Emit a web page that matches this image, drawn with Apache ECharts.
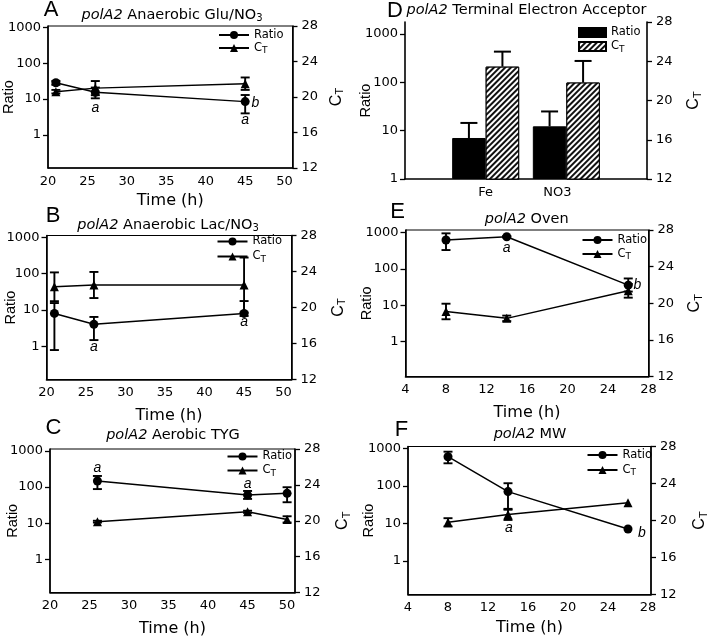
<!DOCTYPE html>
<html><head><meta charset="utf-8">
<script src="https://cdn.jsdelivr.net/npm/echarts@6/dist/echarts.min.js"></script>
<style>html,body{margin:0;padding:0;background:#fff}#c{width:710px;height:639px}</style>
</head><body><div id="c"></div>
<script>
// ---------------- DATA ----------------
const ratioTicks = [1, 10, 100, 1000];
const timeTicksLong = [20, 25, 30, 35, 40, 45, 50];
const timeTicksShort = [4, 8, 12, 16, 20, 24, 28];

// A: Anaerobic Glu/NO3
const timeA = [21, 26, 45];
const ratioA = [28.6, 15.5, 8.5];
const ratioA_lo = [25, 10.5, 4.0];
const ratioA_hi = [32, 21, 13];
const ctA = [20.6, 21.0, 21.5];
const ctA_err = [0.2, 0.8, 0.7];
const annA = [[26, 5.65, 'a'], [46.3, 7.8, 'b'], [45, 2.6, 'a']];

// B: Anaerobic Lac/NO3
const timeB = [21, 26, 45];
const ratioB = [8.0, 4.0, 8.0];
const ratioB_lo = [0.78, 1.47, 6.8];
const ratioB_hi = [15.5, 6.4, 17.6];
const ctB = [22.3, 22.5, 22.5];
const ctB_err = [1.6, 1.45, 3.05];
const annB = [[26, 0.96, 'a'], [45, 4.7, 'a']];

// C: Aerobic TYG
const timeC = [26, 45, 50];
const ratioC = [147, 60, 67];
const ratioC_lo = [88, 47, 38];
const ratioC_hi = [203, 78, 99];
const ctC = [19.9, 21.0, 20.15];
const ctC_err = [0.1, 0.12, 0.35];
const annC = [[26, 332, 'a'], [45, 122, 'a']];

// D: Terminal Electron Acceptor
const catsD = ['Fe', 'NO3'];
const ratioD = [7.06, 12.3];
const ratioD_err = [7.4, 12.7];
const ctD = [23.45, 21.83];
const ctD_err = [1.53, 2.2];

// E: Oven
const timeE = [8, 14, 26];
const ratioE = [630, 776, 36];
const ratioE_lo = [333, 740, 24];
const ratioE_hi = [960, 815, 55];
const ctE = [19.1, 18.35, 21.36];
const ctE_err = [0.85, 0.3, 0.75];
const annE = [[14, 372, 'a'], [26.9, 36, 'b']];

// F: MW
const timeF = [8, 14, 26];
const ratioF = [597, 70, 7.05];
const ratioF_lo = [398, 23, null];
const ratioF_hi = [812, 117, null];
const ctF = [19.8, 20.66, 21.93];
const ctF_err = [0.45, 0.6, 0];
const annF = [[14.1, 7.4, 'a'], [27.4, 5.6, 'b']];

// ---------------- LAYOUT ----------------
const FONT = "'DejaVu Sans', 'Liberation Sans', Arial, sans-serif";
const FONTN = "'Liberation Sans', Arial, Helvetica, sans-serif";
const BLACK = '#000';
const subRich = (fs, pad, fam) => ({ fontSize: fs, fontFamily: fam || FONT, color: BLACK, padding: [pad, 0, 0, 0] });

const panels = [
  { letter: 'A', lx: 51, ly: 10, title: '{i|polA2} Anaerobic Glu/NO{sub|3}', tx: 172, ty: 15,
    grid: { left: 47.5, top: 26, width: 245, height: 142 }, x: [20, 51], xTicks: timeTicksLong, yLog: [0.12, 1090],
    lGap: 32, rGap: 35, xName: 'Time (h)', xGap: 25, legend: { left: 218, top: 28.5, gap: 0 } },
  { letter: 'B', lx: 53, ly: 215.5, title: '{i|polA2} Anaerobic Lac/NO{sub|3}', tx: 168, ty: 225,
    grid: { left: 46.5, top: 235.5, width: 245, height: 144 }, x: [20, 51], xTicks: timeTicksLong, yLog: [0.12, 1135],
    lGap: 28, rGap: 38, xName: 'Time (h)', xGap: 28, legend: { left: 216.5, top: 235, gap: 2 } },
  { letter: 'C', lx: 53.5, ly: 427.5, title: '{i|polA2} Aerobic TYG', tx: 173, ty: 436.7,
    grid: { left: 50, top: 449, width: 245, height: 143.5 }, x: [20, 51], xTicks: timeTicksLong, yLog: [0.12, 1135],
    lGap: 29.5, rGap: 39, xName: 'Time (h)', xGap: 28, legend: { left: 226.5, top: 450, gap: 1 } },
  { letter: 'D', lx: 395, ly: 10.5, title: '{i|polA2} Terminal Electron Acceptor', tx: 526.5, ty: 11.7,
    grid: { left: 405, top: 22, width: 242, height: 157 }, x: [0, 3], xTicks: [1, 2], yLog: [1, 1775],
    lGap: 32, rGap: 38, xName: '', xGap: 0, legend: { left: 578, top: 26, gap: 1 }, bars: true },
  { letter: 'E', lx: 397.5, ly: 211.5, title: '{i|polA2} Oven', tx: 526.7, ty: 220,
    grid: { left: 405.5, top: 230, width: 243, height: 146.5 }, x: [4, 28], xTicks: timeTicksShort, yLog: [0.11, 1187],
    lGap: 31.5, rGap: 37.5, xName: 'Time (h)', xGap: 28, legend: { left: 581.5, top: 233.5, gap: 1 } },
  { letter: 'F', lx: 401.5, ly: 429.5, title: '{i|polA2} MW', tx: 530, ty: 435,
    grid: { left: 408, top: 446.5, width: 248, height: 148 }, x: [4, 28.3], xTicks: timeTicksShort, yLog: [0.126, 1117],
    lGap: 32, rGap: 40, xName: 'Time (h)', xGap: 25, legend: { left: 586.5, top: 448.5, gap: 2 } }
];

function errRender(capW, lw, dx, lowCap) {
  return function (params, api) {
    const x = api.value(0), lo = api.value(1), hi = api.value(2);
    const a = api.coord([x, lo]), b = api.coord([x, hi]);
    const cx = a[0] + dx;
    const st = { stroke: BLACK, lineWidth: lw };
    const ch = [
      { type: 'line', shape: { x1: cx, y1: a[1], x2: cx, y2: b[1] }, style: st },
      { type: 'line', shape: { x1: cx - capW / 2, y1: b[1], x2: cx + capW / 2, y2: b[1] }, style: st }
    ];
    if (lowCap) ch.push({ type: 'line', shape: { x1: cx - capW / 2, y1: a[1], x2: cx + capW / 2, y2: a[1] }, style: st });
    return { type: 'group', children: ch };
  };
}
function annRender(list) {
  return function (params, api) {
    const p = api.coord([api.value(0), api.value(1)]);
    return { type: 'text', x: p[0], y: p[1],
      style: { text: list[params.dataIndex][2], fill: BLACK, font: 'italic 14px ' + FONTN, textAlign: 'center', textVerticalAlign: 'middle' } };
  };
}

const option = { animation: false, backgroundColor: '#fff', textStyle: { fontFamily: FONT },
  grid: [], xAxis: [], yAxis: [], series: [], legend: [], title: [] };

const axisLineStyle = { show: true, onZero: false, lineStyle: { color: BLACK, width: 1.6 } };
const tickStyle = { show: true, length: 5, lineStyle: { color: BLACK, width: 1.3 } };
const labelStyle = { color: BLACK, fontSize: 13, fontFamily: FONT };

panels.forEach((L, i) => {
  option.grid.push(Object.assign({ show: !L.bars, borderColor: BLACK, borderWidth: 1, containLabel: false }, L.grid));
  option.title.push({ text: L.letter, left: L.lx, top: L.ly - 11, textAlign: 'center', padding: 0,
    textStyle: { fontSize: 22, fontWeight: 'normal', color: BLACK, fontFamily: FONTN } });
  option.title.push({ text: L.title, left: L.tx, top: L.ty - 8.5, textAlign: 'center', padding: 0,
    textStyle: { fontSize: 14.5, fontWeight: 'normal', color: BLACK, fontFamily: FONT,
      rich: { i: { fontStyle: 'italic', fontSize: 14.5, fontFamily: FONT, color: BLACK }, sub: subRich(10, 7) } } });
  option.xAxis.push({ gridIndex: i, type: 'value', min: L.x[0], max: L.x[1],
    axisLine: axisLineStyle, axisTick: { show: false }, splitLine: { show: false },
    axisLabel: Object.assign({ customValues: L.xTicks, margin: 7,
      formatter: L.bars ? (v => (Math.round(v) === 2 ? '{n|' + catsD[1] + '}' : catsD[Math.round(v) - 1])) : (v => String(v)),
      rich: { n: { fontSize: 13, fontFamily: FONT, color: BLACK, padding: [0, 18, 0, 0] } } }, labelStyle),
    name: L.xName, nameLocation: 'middle', nameGap: L.xGap, nameMoveOverlap: false,
    nameTextStyle: { fontSize: 16, color: BLACK, fontFamily: FONT } });
  option.yAxis.push({ gridIndex: i, type: 'log', logBase: 10, min: L.yLog[0], max: L.yLog[1], position: 'left',
    axisLine: axisLineStyle, axisTick: Object.assign({ customValues: ratioTicks }, tickStyle), splitLine: { show: false },
    axisLabel: Object.assign({ customValues: ratioTicks, margin: 7, formatter: v => String(Math.round(v)) }, labelStyle),
    name: 'Ratio', nameLocation: 'middle', nameGap: L.lGap, nameMoveOverlap: false,
    nameTextStyle: { fontSize: 14.5, color: BLACK, fontFamily: FONTN } });
  option.yAxis.push({ gridIndex: i, type: 'value', min: 12, max: 28, interval: 4, position: 'right',
    axisLine: axisLineStyle, axisTick: tickStyle, splitLine: { show: false },
    axisLabel: Object.assign({ margin: 9 }, labelStyle),
    name: 'C{sub|T}', nameLocation: 'middle', nameGap: L.rGap, nameRotate: 90, nameMoveOverlap: false,
    nameTextStyle: { fontSize: 16, color: BLACK, fontFamily: FONTN, rich: { sub: subRich(11, 7, FONTN) } } });

  const lg = { orient: 'vertical', left: L.legend.left, top: L.legend.top, itemGap: L.legend.gap, padding: 0,
    selectedMode: false, formatter: n => (n.indexOf('CT') === 0 ? 'C{sub|T}' : 'Ratio'),
    textStyle: { fontSize: 11.5, color: BLACK, fontFamily: FONT, lineHeight: 13, rich: { sub: subRich(9, 6) } } };
  if (L.bars) Object.assign(lg, { icon: 'rect', itemWidth: 27, itemHeight: 9, data: ['RatioD', 'CTD'] });
  else Object.assign(lg, { itemWidth: 30, itemHeight: 10, data: ['Ratio', 'CT'] });
  option.legend.push(lg);
});

function addLinePanel(i, t, ratio, lo, hi, ct, cte, ann) {
  const s = option.series;
  s.push({ type: 'custom', xAxisIndex: i, yAxisIndex: 2 * i, silent: true, z: 2, renderItem: errRender(9, 1.9, 0, true),
    encode: { x: 0, y: [1, 2] }, data: t.map((x, k) => [x, lo[k], hi[k]]).filter(d => d[1] != null) });
  s.push({ type: 'custom', xAxisIndex: i, yAxisIndex: 2 * i + 1, silent: true, z: 2, renderItem: errRender(9, 1.9, 0, true),
    encode: { x: 0, y: [1, 2] }, data: t.map((x, k) => [x, ct[k] - cte[k], ct[k] + cte[k]]).filter(d => d[2] > d[1]) });
  s.push({ type: 'line', name: 'Ratio', xAxisIndex: i, yAxisIndex: 2 * i, z: 3, symbol: 'circle', symbolSize: 9,
    itemStyle: { color: BLACK }, lineStyle: { color: BLACK, width: 1.5 }, data: t.map((x, k) => [x, ratio[k]]) });
  s.push({ type: 'line', name: 'CT', xAxisIndex: i, yAxisIndex: 2 * i + 1, z: 3, symbol: 'triangle', symbolSize: 9,
    itemStyle: { color: BLACK }, lineStyle: { color: BLACK, width: 1.5 }, data: t.map((x, k) => [x, ct[k]]) });
  s.push({ type: 'custom', xAxisIndex: i, yAxisIndex: 2 * i, silent: true, z: 4, renderItem: annRender(ann),
    encode: { x: 0, y: 1 }, data: ann.map(a => [a[0], a[1]]) });
}

addLinePanel(0, timeA, ratioA, ratioA_lo, ratioA_hi, ctA, ctA_err, annA);
addLinePanel(1, timeB, ratioB, ratioB_lo, ratioB_hi, ctB, ctB_err, annB);
addLinePanel(2, timeC, ratioC, ratioC_lo, ratioC_hi, ctC, ctC_err, annC);
addLinePanel(4, timeE, ratioE, ratioE_lo, ratioE_hi, ctE, ctE_err, annE);
addLinePanel(5, timeF, ratioF, ratioF_lo, ratioF_hi, ctF, ctF_err, annF);

// Panel D bars
const BW = 33.5;
option.series.push({ type: 'bar', name: 'RatioD', xAxisIndex: 3, yAxisIndex: 6, barWidth: BW, barGap: '0%', clip: true,
  itemStyle: { color: BLACK, borderColor: BLACK, borderWidth: 1 }, data: catsD.map((c, k) => [k + 1, ratioD[k]]) });
option.series.push({ type: 'bar', name: 'CTD', xAxisIndex: 3, yAxisIndex: 7, barWidth: BW, barGap: '0%', clip: true,
  itemStyle: { color: '#fff', borderColor: BLACK, borderWidth: 1,
    decal: { symbol: 'rect', symbolSize: 1, color: '#111', backgroundColor: '#fff', dashArrayX: [1, 0], dashArrayY: [1.1, 1.8], rotation: -Math.PI / 4 } },
  data: catsD.map((c, k) => [k + 1, ctD[k]]) });
option.series.push({ type: 'custom', xAxisIndex: 3, yAxisIndex: 6, silent: true, z: 4, renderItem: errRender(17, 2, -BW / 2, false),
  encode: { x: 0, y: [1, 2] }, data: catsD.map((c, k) => [k + 1, ratioD[k], ratioD[k] + ratioD_err[k]]) });
option.series.push({ type: 'custom', xAxisIndex: 3, yAxisIndex: 7, silent: true, z: 4, renderItem: errRender(17, 2, BW / 2, false),
  encode: { x: 0, y: [1, 2] }, data: catsD.map((c, k) => [k + 1, ctD[k], ctD[k] + ctD_err[k]]) });

const chart = echarts.init(document.getElementById('c'), null, { renderer: 'canvas' });
chart.setOption(option);
</script></body></html>
